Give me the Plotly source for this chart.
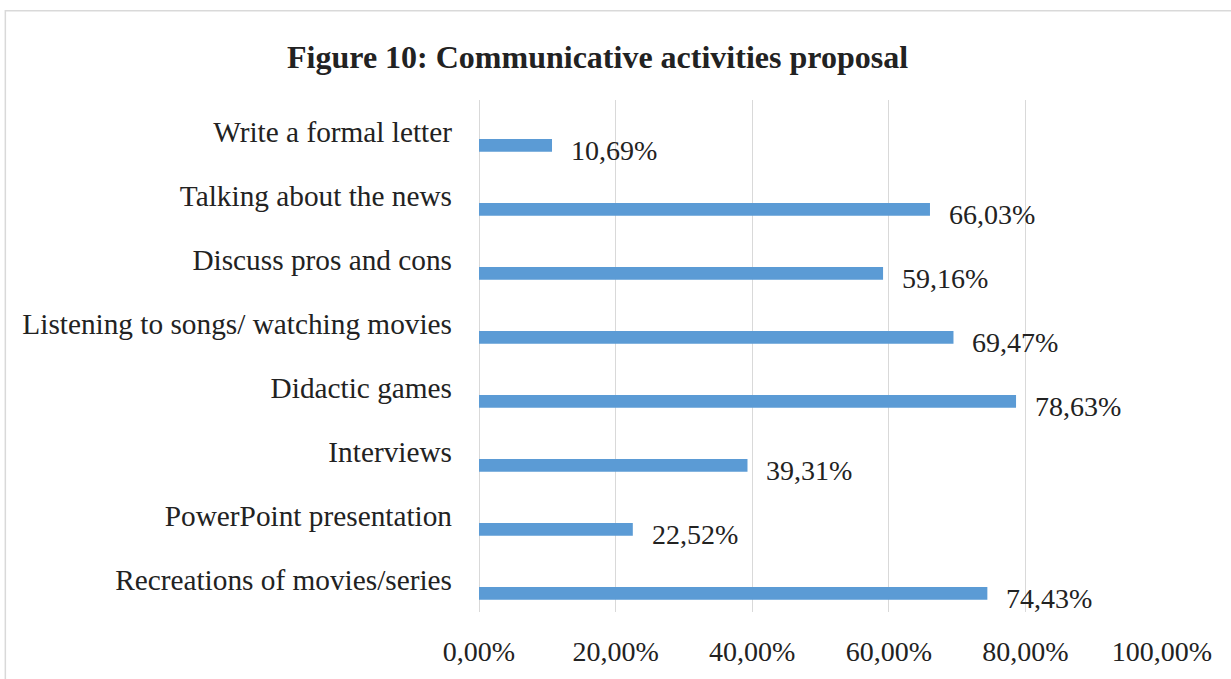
import plotly.graph_objects as go

# Survey results, listed top to bottom as shown on the chart
activities = [
    "Write a formal letter",
    "Talking about the news",
    "Discuss pros and cons",
    "Listening to songs/ watching movies",
    "Didactic games",
    "Interviews",
    "PowerPoint presentation",
    "Recreations of movies/series",
]
shares = [0.1069, 0.6603, 0.5916, 0.6947, 0.7863, 0.3931, 0.2252, 0.7443]
x_ticks = [0, 0.2, 0.4, 0.6, 0.8, 1.0]

FONT = "Liberation Serif, Times New Roman, serif"
TEXT = "#222222"
GRID = "#d9d9d9"
BAR = "#5b9bd5"

fig = go.Figure(
    go.Bar(
        orientation="h",
        y=activities,
        x=shares,
        width=0.2,
        offset=0.108,
        marker=dict(color=BAR, line=dict(width=0)),
        hoverinfo="skip",
    )
)

# value labels to the right of each bar end
for cat, val in zip(activities, shares):
    fig.add_annotation(
        x=val, y=cat, xref="x", yref="y",
        text=f"{val * 100:.2f}%".replace(".", ","),
        showarrow=False, xanchor="left", yanchor="middle",
        xshift=17, yshift=-18,
        font=dict(family=FONT, size=28, color=TEXT),
    )

# chart frame
fig.add_shape(
    type="rect", xref="paper", yref="paper",
    x0=-0.6935, x1=1.3, y0=-0.3, y1=1.1742,
    line=dict(color=GRID, width=1.5), fillcolor="rgba(0,0,0,0)",
    layer="below",
)

fig.update_layout(
    width=1231, height=679,
    margin=dict(l=479, r=68.5, t=99.5, b=60, pad=0),
    paper_bgcolor="white", plot_bgcolor="white",
    separators=", ",
    showlegend=False,
    title=dict(
        text="<b>Figure 10: Communicative activities proposal</b>",
        x=0.4854, xanchor="center", xref="container",
        y=1 - 57 / 679, yanchor="middle", yref="container",
        font=dict(family=FONT, size=32, color=TEXT),
    ),
    xaxis=dict(
        range=[0, 1.0], tickvals=x_ticks, tickformat=".2%",
        showgrid=True, gridcolor=GRID, gridwidth=1.3,
        zeroline=True, zerolinecolor=GRID, zerolinewidth=1.3,
        showline=False, ticks="",
        ticklabelstandoff=20,
        tickfont=dict(family=FONT, size=28, color=TEXT),
    ),
    yaxis=dict(
        range=[7.5, -0.5], showgrid=False, zeroline=False, showline=False,
        ticks="", ticklabelstandoff=26,
        tickfont=dict(family=FONT, size=29.3, color=TEXT),
    ),
)

fig.write_html("out.html")
